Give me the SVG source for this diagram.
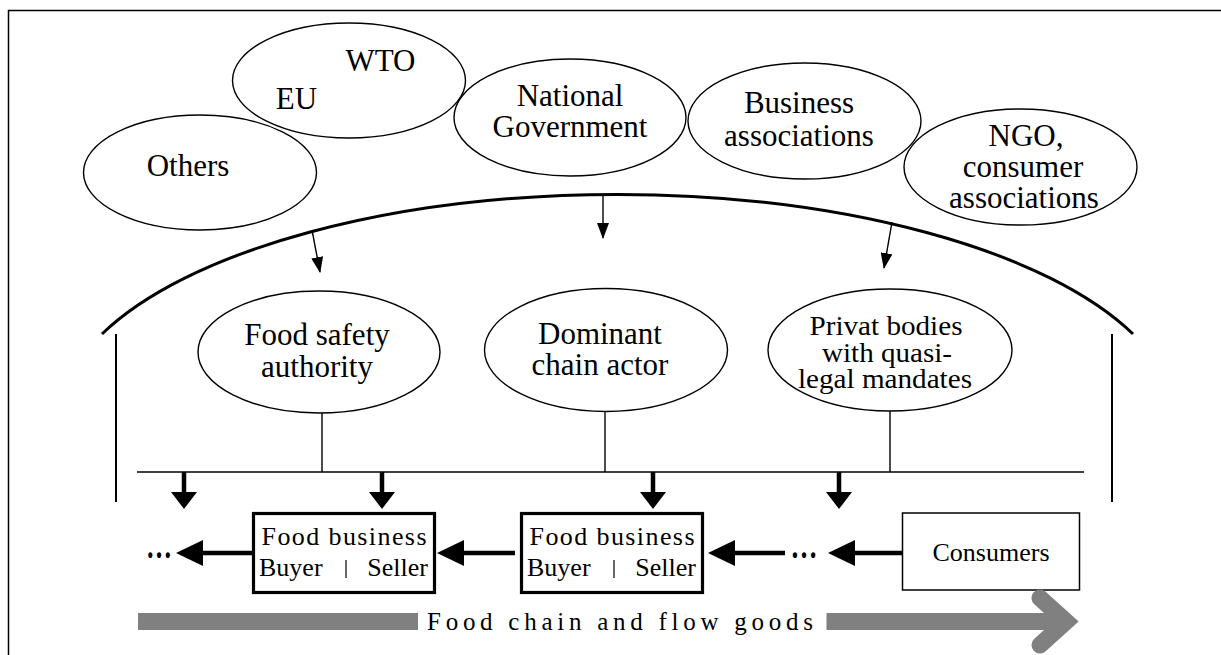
<svg xmlns="http://www.w3.org/2000/svg" width="1221" height="655" viewBox="0 0 1221 655">
<defs>
<style>
.el{fill:#fff;stroke:#000;stroke-width:1.4}
.t{font-family:"Liberation Serif","Times New Roman",serif;fill:#000;text-anchor:middle}
.big{font-size:31px}
.mid{font-size:28px}
.sm{font-size:26px}
.dots{font-size:36px;font-weight:bold}
.thin{stroke:#000;stroke-width:1.4;fill:none}
.thick{stroke:#000;stroke-width:4.5;fill:none}
.box{fill:#fff;stroke:#000;stroke-width:3.2}
.cbox{fill:#fff;stroke:#000;stroke-width:1.5}
.grey{fill:#808080}
</style>
<marker id="ah" markerUnits="userSpaceOnUse" markerWidth="16" markerHeight="12" viewBox="0 0 16 12" refX="15" refY="6" orient="auto">
<path d="M0,0 L16,6 L0,12 z" fill="#000"/>
</marker>
<marker id="dh" markerUnits="userSpaceOnUse" markerWidth="17" markerHeight="26" viewBox="0 0 17 26" refX="1" refY="13" orient="auto">
<path d="M0,0 L17,13 L0,26 z" fill="#000"/>
</marker>
<marker id="hh" markerUnits="userSpaceOnUse" markerWidth="27" markerHeight="26" viewBox="0 0 27 26" refX="2" refY="13" orient="auto">
<path d="M0,0 L27,13 L0,26 z" fill="#000"/>
</marker>
</defs>
<rect width="1221" height="655" fill="#fff"/>
<path d="M8.5,655 V10.5 H1221" fill="none" stroke="#000" stroke-width="1.5"/>

<g id="connectors">
<path d="M102,334 A560,229 0 0,1 1133,334" fill="none" stroke="#000" stroke-width="3"/>
<line class="thin" x1="312" y1="230" x2="320" y2="272" marker-end="url(#ah)"/>
<line class="thin" x1="603" y1="195" x2="603" y2="238" marker-end="url(#ah)"/>
<line class="thin" x1="892" y1="222" x2="884" y2="268" marker-end="url(#ah)"/>
<line x1="116" y1="334" x2="116" y2="502" stroke="#000" stroke-width="2"/>
<line x1="1112" y1="334" x2="1112" y2="502" stroke="#000" stroke-width="2"/>
<line class="thin" x1="322" y1="412" x2="322" y2="472"/>
<line class="thin" x1="605" y1="411" x2="605" y2="472"/>
<line class="thin" x1="890" y1="411" x2="890" y2="472"/>
<line x1="137" y1="472" x2="1084" y2="472" stroke="#000" stroke-width="1.6"/>
<line class="thick" x1="184" y1="472" x2="184" y2="493" marker-end="url(#dh)"/>
<line class="thick" x1="382" y1="472" x2="382" y2="493" marker-end="url(#dh)"/>
<line class="thick" x1="653" y1="472" x2="653" y2="493" marker-end="url(#dh)"/>
<line class="thick" x1="839" y1="472" x2="839" y2="493" marker-end="url(#dh)"/>
<line class="thick" x1="252" y1="553" x2="201" y2="553" marker-end="url(#hh)"/>
<line class="thick" x1="515" y1="553" x2="462" y2="553" marker-end="url(#hh)"/>
<line class="thick" x1="785" y1="553" x2="733" y2="553" marker-end="url(#hh)"/>
<line class="thick" x1="902" y1="553" x2="853" y2="553" marker-end="url(#hh)"/>
<text class="t dots" x="159" y="558" textLength="26" lengthAdjust="spacingAndGlyphs">…</text>
<text class="t dots" x="804" y="558" textLength="27" lengthAdjust="spacingAndGlyphs">…</text>
</g>

<g id="others"><ellipse class="el" cx="200" cy="172.5" rx="116.5" ry="57.5"/><text class="t big" x="188" y="176">Others</text></g>
<g id="eu-wto"><ellipse class="el" cx="349" cy="80.5" rx="116.5" ry="57.5"/><text class="t big" x="380.5" y="71">WTO</text><text class="t big" x="296.5" y="109">EU</text></g>
<g id="national-government"><ellipse class="el" cx="570" cy="117.5" rx="116" ry="58.5"/><text class="t big" x="570" y="106">National</text><text class="t big" x="570" y="137">Government</text></g>
<g id="business-associations"><ellipse class="el" cx="804.5" cy="121" rx="116.5" ry="58"/><text class="t big" x="799" y="113">Business</text><text class="t big" x="799" y="146">associations</text></g>
<g id="ngo"><ellipse class="el" cx="1020.5" cy="167" rx="116.5" ry="58"/><text class="t big" x="1026" y="146">NGO,</text><text class="t big" x="1023" y="177">consumer</text><text class="t big" x="1024" y="208">associations</text></g>

<g id="food-safety-authority"><ellipse class="el" cx="319" cy="352" rx="121" ry="61"/><text class="t big" x="317" y="345">Food safety</text><text class="t big" x="317" y="377">authority</text></g>
<g id="dominant-chain-actor"><ellipse class="el" cx="606" cy="350" rx="121.5" ry="61.5"/><text class="t big" x="600" y="344">Dominant</text><text class="t big" x="600" y="375">chain actor</text></g>
<g id="privat-bodies"><ellipse class="el" cx="890" cy="350" rx="122" ry="61"/><text class="t mid" x="886" y="335" textLength="153" lengthAdjust="spacingAndGlyphs">Privat bodies</text><text class="t mid" x="887" y="362" textLength="130" lengthAdjust="spacingAndGlyphs">with quasi-</text><text class="t mid" x="885" y="388" textLength="174" lengthAdjust="spacingAndGlyphs">legal mandates</text></g>

<g id="food-business-1"><rect class="box" x="253.5" y="513.5" width="181" height="79"/><text class="t sm" x="344" y="545" textLength="165" lengthAdjust="spacing">Food business</text><text class="t sm" x="259" y="576" style="text-anchor:start">Buyer</text><text class="t sm" x="428" y="576" style="text-anchor:end">Seller</text><line x1="346" y1="560" x2="346" y2="578" stroke="#000" stroke-width="1.2"/></g>
<g id="food-business-2"><rect class="box" x="521.5" y="513.5" width="181" height="79"/><text class="t sm" x="612" y="545" textLength="165" lengthAdjust="spacing">Food business</text><text class="t sm" x="527" y="576" style="text-anchor:start">Buyer</text><text class="t sm" x="696" y="576" style="text-anchor:end">Seller</text><line x1="614" y1="560" x2="614" y2="578" stroke="#000" stroke-width="1.2"/></g>
<g id="consumers"><rect class="cbox" x="902.5" y="513" width="177" height="77"/><text class="t sm" x="991" y="561">Consumers</text></g>

<g id="flow-arrow">
<rect class="grey" x="138" y="613" width="280" height="17"/>
<rect class="grey" x="826.5" y="613" width="235" height="17"/>
<polyline points="1040,598 1066,621.5 1040,645" fill="none" stroke="#808080" stroke-width="17" stroke-linecap="round" stroke-linejoin="miter"/>
<text class="t" x="620" y="630" style="font-size:25px" textLength="386" lengthAdjust="spacing">Food chain and flow goods</text>
</g>
</svg>
